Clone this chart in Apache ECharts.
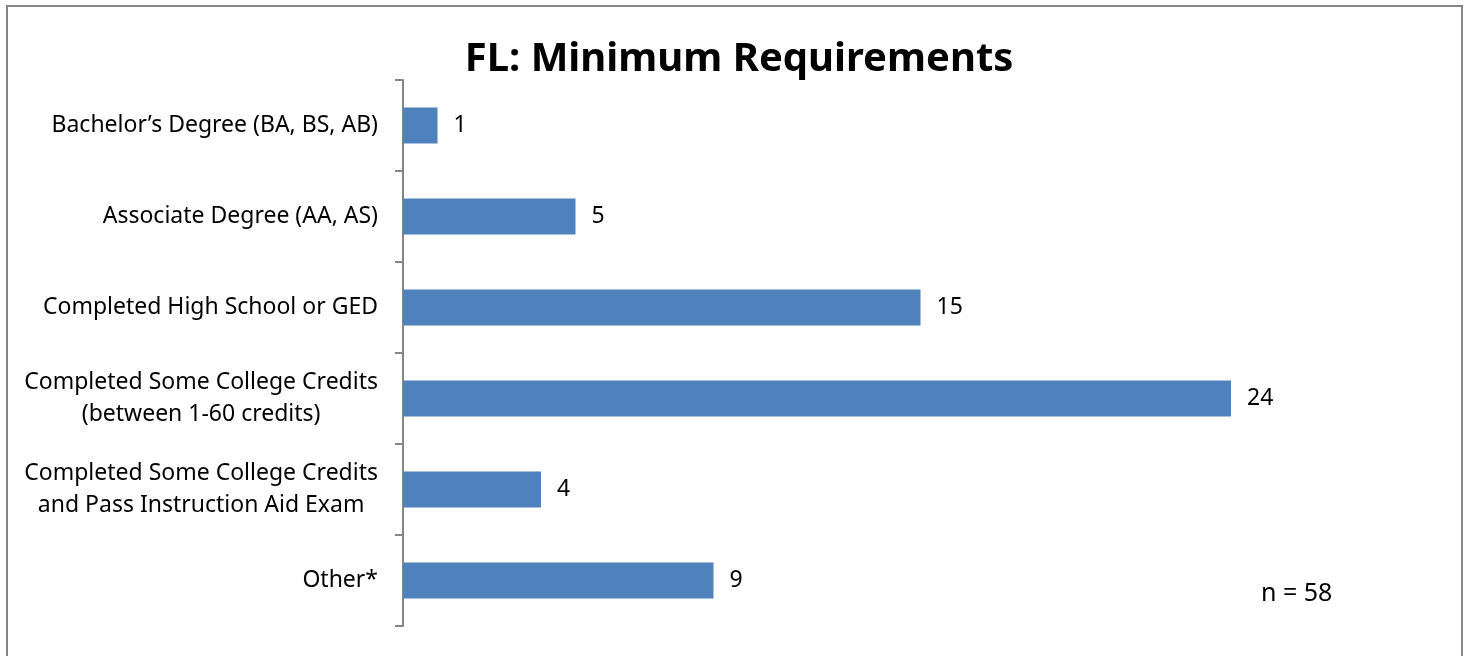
<!DOCTYPE html>
<html>
<head>
<meta charset="utf-8">
<script src="https://cdn.jsdelivr.net/npm/echarts@6/dist/echarts.min.js"></script>
<style>
html,body{margin:0;padding:0;background:#fff;}
#chart{width:1469px;height:656px;}
</style>
</head>
<body>
<div id="chart"></div>
<script>
const titleText = 'FL: Minimum Requirements';
const categories = [
  'Bachelor\u2019s Degree (BA, BS, AB)',
  'Associate Degree (AA, AS)',
  'Completed High School or GED',
  'Completed Some College Credits\n(between 1-60 credits)',
  'Completed Some College Credits\nand Pass Instruction Aid Exam',
  'Other*'
];
const values = [1, 5, 15, 24, 4, 9];
const noteText = 'n = 58';

const chart = echarts.init(document.getElementById('chart'));
const font = '"Noto Sans", sans-serif';
chart.setOption({
  backgroundColor: '#ffffff',
  animation: false,
  title: {
    text: titleText,
    left: 734, top: 35, textAlign: 'center',
    textStyle: { fontFamily: font, fontWeight: 'bold', fontSize: 40, color: '#000' }
  },
  grid: { left: 403, right: 31, top: 80, bottom: 30, containLabel: false },
  xAxis: {
    type: 'value', min: 0, max: 30, show: false
  },
  yAxis: {
    type: 'category',
    inverse: true,
    data: categories,
    axisLine: { show: true, lineStyle: { color: '#868686', width: 2 } },
    axisTick: { show: true, length: 8, lineStyle: { color: '#868686', width: 2 } },
    axisLabel: {
      margin: 25,
      formatter: function (v) { return v.split('\n').map(s => '{c|' + s + '}').join('\n'); },
      rich: { c: { align: 'center', fontFamily: font, fontSize: 23, color: '#000', lineHeight: 32 } }
    },
    splitLine: { show: false }
  },
  series: [{
    type: 'bar',
    data: values,
    barWidth: 36,
    itemStyle: { color: '#4F81BD' },
    label: {
      show: true, position: 'right', distance: 16,
      fontFamily: font, fontSize: 23, color: '#000'
    }
  }],
  graphic: [
    { type: 'rect', shape: { x: 7, y: 6, width: 1455, height: 660 }, style: { fill: 'none', stroke: '#868686', lineWidth: 2 }, silent: true },
    { type: 'text', left: 1261, top: 581, style: { text: noteText, fontFamily: font, fontSize: 25, fill: '#000' } }
  ]
});
</script>
</body>
</html>
